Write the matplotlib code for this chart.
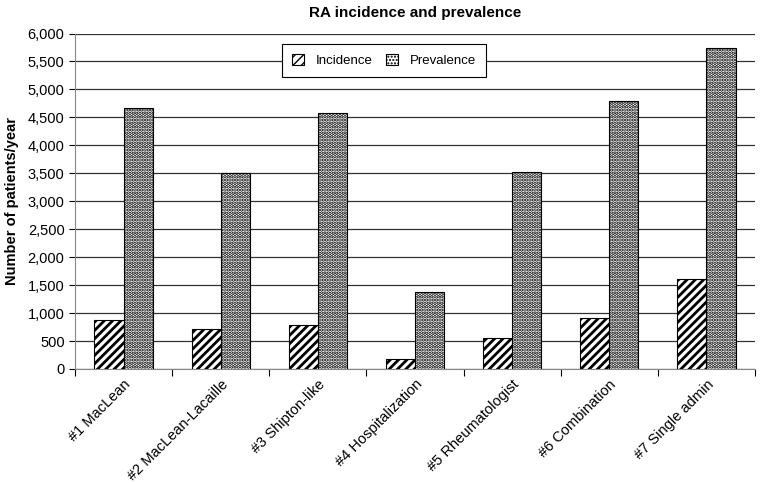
import matplotlib.pyplot as plt
import numpy as np
from matplotlib.ticker import FuncFormatter

plt.rcParams['font.family'] = ['Liberation Sans', 'DejaVu Sans']

categories = ['#1 MacLean', '#2 MacLean-Lacaille', '#3 Shipton-like', '#4 Hospitalization',
              '#5 Rheumatologist', '#6 Combination', '#7 Single admin']
incidence = [870, 710, 790, 170, 560, 910, 1610]
prevalence = [4670, 3510, 4570, 1380, 3530, 4790, 5740]

fig = plt.figure(figsize=(7.65, 4.83), dpi=100)
ax = fig.add_axes([75 / 765, 1 - 369 / 483, 680 / 765, 335.5 / 483])

x = np.arange(len(categories))
w = 0.3
with plt.rc_context({'hatch.linewidth': 2.0}):
    ax.bar(x - w / 2, incidence, w, color='white', edgecolor='black', hatch='////',
           linewidth=0.8, label='Incidence', zorder=3)
with plt.rc_context({'hatch.linewidth': 1.7}):
    ax.bar(x + w / 2, prevalence, w, color='white', edgecolor='black', hatch='.....',
           linewidth=0.8, label='Prevalence', zorder=3)

ax.set_xlim(-0.5, len(categories) - 0.5)
ax.set_ylim(0, 6000)
ax.set_yticks(np.arange(0, 6001, 500))
ax.yaxis.set_major_formatter(FuncFormatter(lambda v, p: f'{int(v):,}'))
ax.grid(axis='y', color='#333333', linewidth=0.9, zorder=0)

ax.set_xticks(np.arange(len(categories) + 1) - 0.5, minor=False)
ax.set_xticklabels([])
ax.set_xticks(x, minor=True)
ax.set_xticklabels(categories, minor=True, rotation=45, ha='right', rotation_mode='anchor',
                   fontsize=10.5)
ax.tick_params(axis='x', which='minor', length=0, pad=6)
ax.tick_params(axis='x', which='major', length=5, color='black')
ax.tick_params(axis='y', labelsize=10.5, length=4)

for s in ['top', 'right']:
    ax.spines[s].set_visible(False)
ax.spines['left'].set_color('#888888')
ax.spines['bottom'].set_color('#888888')

ax.set_ylabel('Number of patients/year', fontsize=10.5, fontweight='bold', labelpad=6)
ax.set_title('RA incidence and prevalence', fontsize=11, fontweight='bold', pad=12)

leg = ax.legend(loc='center', bbox_to_anchor=(0.454, 0.92), ncol=2, fancybox=False,
                framealpha=1, edgecolor='black', fontsize=9.5, handlelength=0.9,
                handleheight=0.9, handletextpad=0.9, columnspacing=1.0, borderpad=0.75)
leg.get_frame().set_linewidth(0.8)

fig.savefig('out.png', dpi=100)
